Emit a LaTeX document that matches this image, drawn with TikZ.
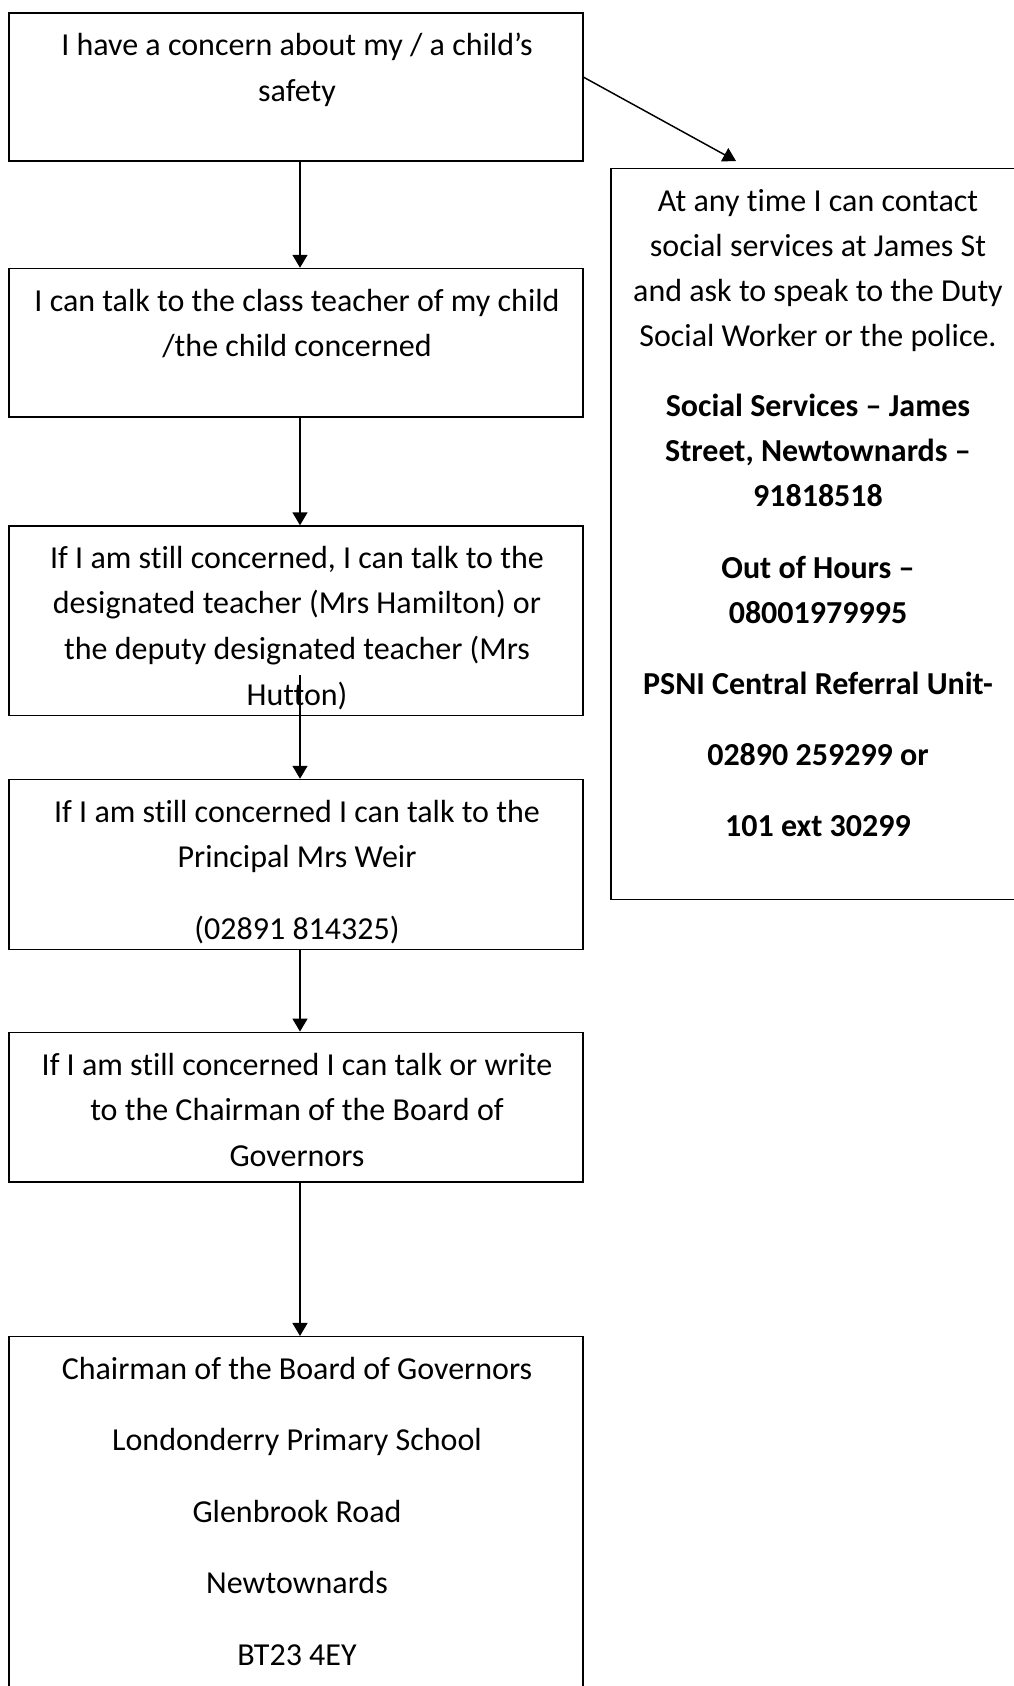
\documentclass[tikz,border=0pt]{standalone}
\usepackage{fontspec}
\setmainfont{Carlito}[Ligatures=NoCommon]
\usetikzlibrary{arrows.meta,fit,calc}
\begin{document}
\begin{tikzpicture}[x=0.75pt,y=-0.75pt,
  box/.style={draw,line width=1.1pt,inner sep=0pt},
  txt/.style={anchor=base,align=flush center,inner sep=0pt,text width=420pt,font=\fontsize{24}{34.2}\selectfont},
  rtxt/.style={txt,text width=300pt,font=\fontsize{24}{33.75}\selectfont},
  conn/.style={line width=1.1pt,-{Triangle[length=9.75pt,width=11.25pt]}}]
\clip (0,0) rectangle (1014,1686);
\fill[white] (0,0) rectangle (1014,1686);
% boxes
\node[box,fit={(9,13) (583,161)}] (b1) {};
\node[box,fit={(9,268.5) (583,417)}] (b2) {};
\node[box,fit={(9,526) (583,715.5)}] (b3) {};
\node[box,fit={(9,779.5) (583,949.5)}] (b4) {};
\node[box,fit={(9,1032.3) (583,1182)}] (b5) {};
\node[box,fit={(9,1336.7) (583,1700)}] (b6) {};
\node[box,fit={(611,168.3) (1025,899.3)}] (rb) {};
% texts
\node[txt] (t1) at ($(b1.north)+(1,43.5)$) {I have a concern about my / a child’s\\safety};
\node[txt] (t2) at ($(b2.north)+(1,43.5)$) {I can talk to the class teacher of my child\\/the child concerned};
\node[txt] (t3) at ($(b3.north)+(1,43)$) {If I am still concerned, I can talk to the\\designated teacher (Mrs Hamilton) or\\the deputy designated teacher (Mrs\\Hutton)};
\node[txt] (t4) at ($(b4.north)+(1,43.5)$) {If I am still concerned I can talk to the\\Principal Mrs Weir\\[19.4pt](02891 814325)};
\node[txt] (t5) at ($(b5.north)+(1,43.5)$) {If I am still concerned I can talk or write\\to the Chairman of the Board of\\Governors};
\node[txt] (t6) at ($(b6.north)+(1,43.5)$) {Chairman of the Board of Governors\\[19.4pt]Londonderry Primary School\\[19.4pt]Glenbrook Road\\[19.4pt]Newtownards\\[19.4pt]BT23 4EY};
\node[rtxt] (tr) at ($(rb.north)+(0,43.5)$) {At any time I can contact\\social services at James St\\and ask to speak to the Duty\\Social Worker or the police.\\[19.4pt]
\textbf{Social Services – James}\\\textbf{Street, Newtownards –}\\\textbf{91818518}\\[19.6pt]
\textbf{Out of Hours –}\\\textbf{08001979995}\\[19.6pt]
\textbf{PSNI Central Referral Unit-}\\[19.6pt]
\textbf{02890 259299 or}\\[19.6pt]
\textbf{101 ext 30299}};
% connectors
\coordinate (s3) at (300,675);
\coordinate (dtip) at (736,161);
\draw[conn] ($(b1.south)+(4,0)$) -- ($(b2.north)+(4,0)$);
\draw[conn] ($(b2.south)+(4,0)$) -- ($(b3.north)+(4,0)$);
\draw[conn] (s3) -- (s3 |- b4.north);
\draw[conn] ($(b4.south)+(4,0)$) -- ($(b5.north)+(4,0)$);
\draw[conn] ($(b5.south)+(4,0)$) -- ($(b6.north)+(4,0)$);
\draw[conn] ($(b1.north east)+(0,65)$) -- (dtip);
\end{tikzpicture}
\end{document}
